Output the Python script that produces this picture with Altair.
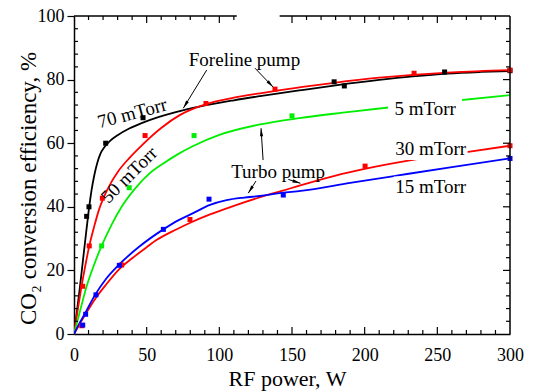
import math
import altair as alt
import pandas as pd

# ---------------- data ----------------
series = ["70 mTorr", "50 mTorr", "5 mTorr", "30 mTorr", "15 mTorr"]
colors = ["#000000", "#ff0000", "#00ee00", "#ff0000", "#0000ff"]

c70_x = [0, 2, 4, 6, 8, 10, 12, 14, 16, 18, 21, 25, 30, 38, 47, 58, 70, 87, 110, 128, 155, 180, 210, 233, 257, 280, 300]
c70_y = [0, 7, 14.5, 22.5, 30.5, 38.3, 45, 50, 53.8, 56.5, 58.8, 60.8, 62.5, 64.6, 66.4, 68.2, 69.8, 71.6, 73.5, 74.8, 76.6, 78.2, 79.9, 81, 81.9, 82.4, 82.7]
c50_x = [0, 2, 5, 8, 10.5, 14, 17, 21, 26, 30, 38, 47, 60, 73, 91, 110, 128, 142, 156, 179, 210, 233, 260, 300]
c50_y = [0, 6, 14.5, 22, 27.7, 34, 38.8, 43.5, 48, 50.9, 55.3, 59.5, 64.8, 68.9, 72.3, 74.3, 75.7, 76.7, 77.6, 79, 80.6, 81.5, 82.3, 83]
c5_x = [0, 4, 8.7, 14, 19, 26, 32.8, 42, 52, 62, 71, 82, 100, 128, 155, 185, 218, 250, 300]
c5_y = [0, 7, 15, 22, 27.7, 34.5, 40, 45.7, 50.5, 53.8, 56.4, 59.1, 62.6, 65.9, 67.9, 69.6, 71.3, 72.8, 75.1]
c30_x = [0, 5, 10, 15.6, 22, 30.5, 40, 50, 57, 70, 80, 93.6, 110, 128, 143, 160, 180, 200, 230, 270, 300]
c30_y = [0, 4, 7.8, 11.7, 15.5, 20.1, 23.8, 27.3, 29.6, 32.8, 35, 37.6, 40.3, 43, 45, 47.3, 49.8, 51.9, 54.5, 57.2, 59.2]
c15_x = [0, 3, 7.6, 14.5, 22, 30.5, 45, 61.5, 72, 82, 93.6, 105, 117, 128, 143, 156, 190, 222, 260, 300]
c15_y = [0, 2.7, 6.5, 12.3, 17.3, 21.6, 27.5, 32.9, 35.8, 38, 40.6, 42.1, 42.9, 43.4, 44.4, 45, 47.5, 49.8, 52.5, 55.2]

# measured points
p70_x = [8.7, 10.3, 21.8, 47.5, 179, 186, 255, 300]
p70_y = [37, 40, 60, 68, 79.3, 78, 82.4, 82.8]
p50_x = [6, 10.5, 19.5, 48.9, 90.8, 138.3, 234, 300]
p50_y = [15, 27.7, 42.7, 62.4, 72.5, 77, 82, 83]
p5_x = [19, 38, 82.6, 150]
p5_y = [27.7, 46, 62.4, 68.6]
p30_x = [5.3, 32.8, 79.8, 200.3, 300]
p30_y = [2.6, 21.7, 36, 52.8, 59.2]
p15_x = [6, 8, 15.1, 31.2, 61.5, 92.9, 144, 300]
p15_y = [2.8, 6.2, 12.3, 21.6, 32.9, 42.4, 43.7, 55.2]

x_ticks = [0, 50, 100, 150, 200, 250, 300]
y_ticks = [0, 20, 40, 60, 80, 100]

# annotations
lab_text = ["Foreline pump", "Turbo pump", "5 mTorr", "30 mTorr", "15 mTorr", "70 mTorr", "50 mTorr"]
lab_x = [117.3, 140.4, 241.6, 245.4, 245.4, 40.1, 38.0]
lab_y = [86.2, 50.9, 70.8, 58.2, 46.1, 69.4, 50.0]
lab_angle = [0, 0, 0, 0, 0, 345, 315]
box_labels = ["5 mTorr", "30 mTorr", "15 mTorr"]

arr_tail_x = [91.3, 124.5, 130.1, 125.2, 147.5]
arr_tail_y = [83.0, 83.6, 54.7, 48.1, 48.6]
arr_head_x = [75.2, 137.1, 128.7, 119.9, 155.8]
arr_head_y = [71.0, 77.6, 64.7, 44.3, 47.4]

# ---------------- layout ----------------
W, H = 436, 318
PADL, PADT = 74, 16
XMAX, YMAX = 300, 100
px_x = W / XMAX
px_y = H / YMAX
FONT = "Liberation Serif"

xs = alt.Scale(domain=[0, XMAX], nice=False, zero=False)
ys = alt.Scale(domain=[0, YMAX], nice=False, zero=False)
cscale = alt.Scale(domain=series, range=colors)

curves = []
for s, xx, yy in zip(series, [c70_x, c50_x, c5_x, c30_x, c15_x], [c70_y, c50_y, c5_y, c30_y, c15_y]):
    for a, b in zip(xx, yy):
        curves.append({"s": s, "x": a, "y": b})
curves = pd.DataFrame(curves)

pts = []
for s, xx, yy in zip(series, [p70_x, p50_x, p5_x, p30_x, p15_x], [p70_y, p50_y, p5_y, p30_y, p15_y]):
    for a, b in zip(xx, yy):
        pts.append({"s": s, "x": a, "y": b})
pts = pd.DataFrame(pts)

labels = pd.DataFrame({"t": lab_text, "x": lab_x, "y": lab_y, "a": lab_angle})
boxes = labels[labels["t"].isin(box_labels)]

arrows = []
heads = []
for i, (tx, ty, hx, hy) in enumerate(zip(arr_tail_x, arr_tail_y, arr_head_x, arr_head_y)):
    arrows.append({"id": i, "x": tx, "y": ty, "x2": hx, "y2": hy})
    dx = (hx - tx) * px_x
    dy = -(hy - ty) * px_y
    ang = math.degrees(math.atan2(dx, -dy)) % 360
    heads.append({"id": i, "x": hx, "y": hy, "ang": ang})
arrows = pd.DataFrame(arrows)
heads = pd.DataFrame(heads)

# frame (top / right) and inward ticks
GAP = (112, 141.5)
frame = pd.DataFrame([
    {"x": 0, "x2": GAP[0], "y": YMAX, "y2": YMAX},
    {"x": GAP[1], "x2": XMAX, "y": YMAX, "y2": YMAX},
    {"x": XMAX, "x2": XMAX, "y": 0, "y2": YMAX},
])

ticks = []
MAJ, MIN = 7, 4
for v in range(10, XMAX, 10):
    ln = (MAJ if v % 50 == 0 else MIN) / px_y
    ticks.append({"x": v, "x2": v, "y": 0, "y2": ln})
    if not (GAP[0] < v < GAP[1]):
        ticks.append({"x": v, "x2": v, "y": YMAX, "y2": YMAX - ln})
for v in range(4, YMAX, 4):
    major = v % 20 == 0
    ln = (MAJ if major else MIN) / px_x
    if not major:
        ticks.append({"x": 0, "x2": ln, "y": v, "y2": v})
    ticks.append({"x": XMAX, "x2": XMAX - ln, "y": v, "y2": v})
ticks = pd.DataFrame(ticks)

# ---------------- chart ----------------
x_axis = alt.Axis(values=x_ticks, ticks=False, grid=False, domainColor="black", domainWidth=1.5,
                  labelFont=FONT, labelFontSize=18, labelColor="black", labelPadding=12, labelFlush=False,
                  title="RF power, W", titleFont=FONT, titleFontSize=22, titleFontWeight="normal",
                  titleColor="black", titleX=213, titleY=51, titleBaseline="alphabetic", titleAlign="center")
y_axis = alt.Axis(values=y_ticks, ticks=True, tickSize=7, tickColor="black", tickWidth=1.2, grid=False,
                  domainColor="black", domainWidth=1.5,
                  labelFont=FONT, labelFontSize=18, labelColor="black", labelPadding=3, labelFlush=False,
                  title="CO₂ conversion efficiency, %", titleFont=FONT, titleFontSize=23,
                  titleFontWeight="normal", titleColor="black", titleAngle=270, titleX=-39, titleY=172,
                  titleBaseline="alphabetic", titleAlign="center")

X = alt.X("x:Q", scale=xs, axis=x_axis)
Y = alt.Y("y:Q", scale=ys, axis=y_axis)

base_curves = alt.Chart(curves).mark_line(strokeWidth=1.8, interpolate="monotone", clip=True).encode(
    x=X, y=Y,
    color=alt.Color("s:N", scale=cscale, legend=None),
    detail="s:N",
    order=alt.Order("x:Q"),
)

points = alt.Chart(pts).mark_square(size=25, opacity=1).encode(
    x=X, y=Y,
    color=alt.Color("s:N", scale=cscale, legend=None),
)

box_layer = alt.Chart(boxes).mark_rect(width=74, height=22, color="white").encode(x=X, y=Y)

text_layer = alt.Chart(labels).mark_text(font=FONT, fontSize=19, color="black", align="center",
                                         baseline="middle").encode(
    x=X, y=Y,
    text="t:N",
    angle=alt.Angle("a:Q", scale=None),
)

arrow_lines = alt.Chart(arrows).mark_rule(color="black", strokeWidth=1).encode(
    x=X, y=Y, x2="x2:Q", y2="y2:Q",
)

arrow_heads = alt.Chart(heads).mark_point(
    shape="M0,0L0.8,4L-0.8,4Z", size=16, filled=True, color="black", opacity=1
).encode(
    x=X, y=Y,
    angle=alt.Angle("ang:Q", scale=None),
)

frame_layer = alt.Chart(frame).mark_rule(color="black", strokeWidth=1.5).encode(
    x=X, y=Y, x2="x2:Q", y2="y2:Q",
)

tick_layer = alt.Chart(ticks).mark_rule(color="black", strokeWidth=1.2).encode(
    x=X, y=Y, x2="x2:Q", y2="y2:Q",
)

chart = alt.layer(
    base_curves, points, box_layer, text_layer, arrow_lines, arrow_heads, frame_layer, tick_layer
).properties(
    width=W, height=H,
    autosize=alt.AutoSizeParams(type="none"),
    padding={"left": PADL, "top": PADT, "right": 533 - PADL - W, "bottom": 391 - PADT - H},
    background="white",
).configure_view(stroke=None)

chart.save("out.html", embed_options={"renderer": "svg", "actions": False})
